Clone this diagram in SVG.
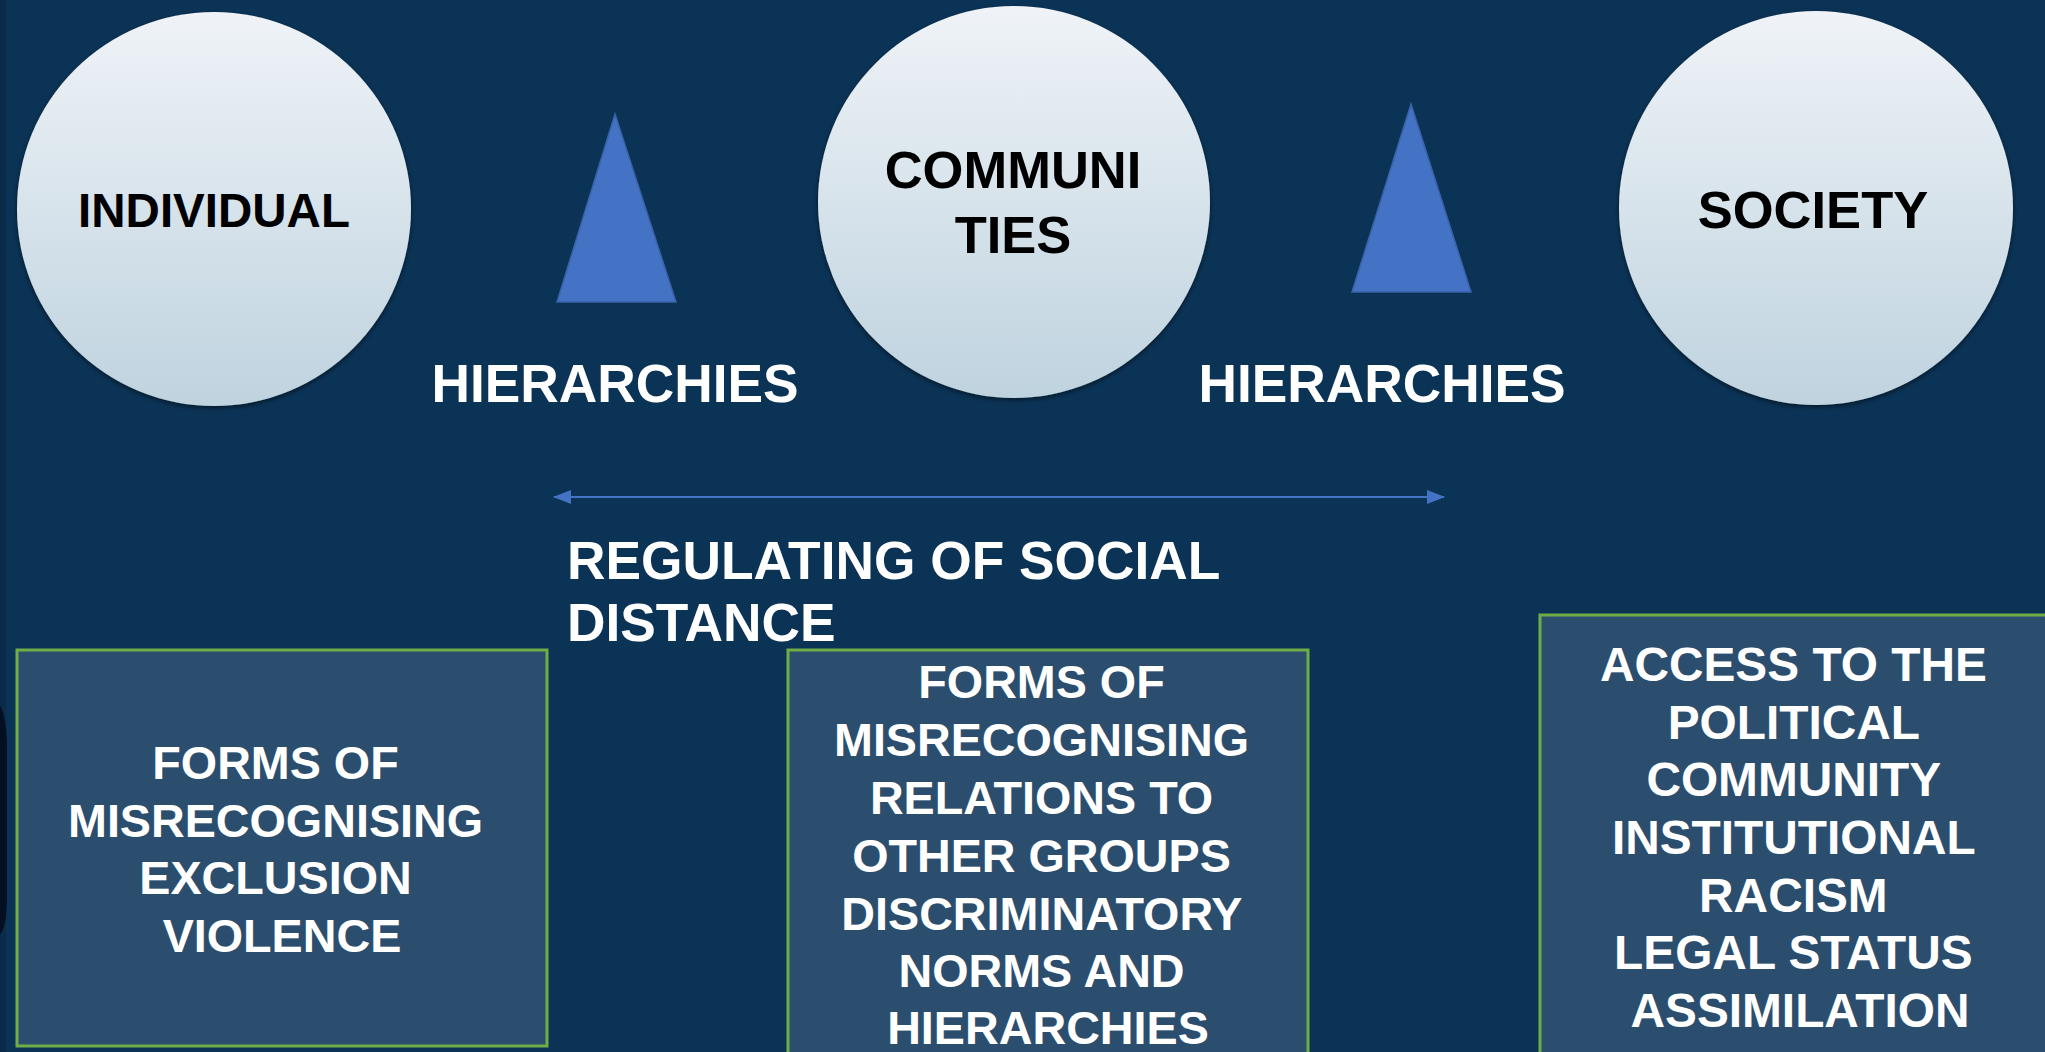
<svg xmlns="http://www.w3.org/2000/svg" width="2045" height="1052" viewBox="0 0 2045 1052">
  <defs>
    <linearGradient id="sphere" x1="0" y1="0" x2="0" y2="1">
      <stop offset="0" stop-color="#eff3f7"/>
      <stop offset="1" stop-color="#bfd3df"/>
    </linearGradient>
    <filter id="soft" x="-10%" y="-10%" width="120%" height="120%">
      <feDropShadow dx="0" dy="2" stdDeviation="2.5" flood-color="#000000" flood-opacity="0.55"/>
    </filter>
    <marker id="head" viewBox="0 0 18 14" refX="17" refY="7" markerWidth="18" markerHeight="14" markerUnits="userSpaceOnUse" orient="auto-start-reverse">
      <path d="M0,0 L18,7 L0,14 Z" fill="#4472c4"/>
    </marker>
    <style>
      .circle { fill: url(#sphere); filter: url(#soft); }
      .dark { font-family: "Liberation Sans", Arial, sans-serif; font-weight: bold; fill: #000000; text-anchor: middle; }
      .light { font-family: "Liberation Sans", Arial, sans-serif; font-weight: bold; fill: #ffffff; }
      .mid { text-anchor: middle; }
      .tri { fill: #4472c4; stroke: #3a62a9; stroke-width: 1.5; }
      .box { fill: #2c4e6e; stroke: #70ad47; stroke-width: 3; }
      .link { stroke: #4472c4; stroke-width: 2; fill: none; }
    </style>
  </defs>

  <!-- backdrop -->
  <rect x="0" y="0" width="2045" height="1052" fill="#0b3356"/>
  <rect x="0" y="0" width="6" height="1052" fill="#0a2b4a"/>
  <path d="M0,705 C5,715 7,730 7,750 L7,895 C7,915 5,928 0,935 Z" fill="#040f22"/>

  <!-- level circles -->
  <g id="individual">
    <circle class="circle" cx="214" cy="209" r="197"/>
    <text class="dark" x="214" y="227" font-size="47.5">INDIVIDUAL</text>
  </g>
  <g id="communities">
    <circle class="circle" cx="1014" cy="202" r="196"/>
    <text class="dark" x="1013" y="188" font-size="52.5">COMMUNI</text>
    <text class="dark" x="1013" y="253" font-size="52.5">TIES</text>
  </g>
  <g id="society">
    <circle class="circle" cx="1816" cy="208" r="197"/>
    <text class="dark" x="1813" y="228" font-size="52.5">SOCIETY</text>
  </g>

  <!-- hierarchy markers -->
  <g id="hierarchy-left">
    <polygon class="tri" points="615,114 557,302 676,302"/>
    <text class="light mid" x="615" y="402" font-size="53.3">HIERARCHIES</text>
  </g>
  <g id="hierarchy-right">
    <polygon class="tri" points="1411,104 1352,292 1471,292"/>
    <text class="light mid" x="1382" y="402" font-size="53.3">HIERARCHIES</text>
  </g>

  <!-- social distance axis -->
  <g id="connectors">
    <line class="link" x1="554" y1="497" x2="1444" y2="497" marker-start="url(#head)" marker-end="url(#head)"/>
  </g>
  <g id="social-distance">
    <text class="light" x="567" y="579" font-size="53.3">REGULATING OF SOCIAL</text>
    <text class="light" x="567" y="641" font-size="53.3">DISTANCE</text>
  </g>

  <!-- forms of misrecognition per level -->
  <g id="box-individual">
    <rect class="box" x="17" y="650" width="530" height="396"/>
    <text class="light mid" font-size="46.7">
      <tspan x="282" y="779">FORMS OF</tspan>
      <tspan x="282" y="836.5">MISRECOGNISING</tspan>
      <tspan x="282" y="894">EXCLUSION</tspan>
      <tspan x="282" y="952">VIOLENCE</tspan>
    </text>
  </g>
  <g id="box-communities">
    <rect class="box" x="788" y="650" width="520" height="430"/>
    <text class="light mid" font-size="46.7">
      <tspan x="1048" y="698">FORMS OF</tspan>
      <tspan x="1048" y="756">MISRECOGNISING</tspan>
      <tspan x="1048" y="813.5">RELATIONS TO</tspan>
      <tspan x="1048" y="872">OTHER GROUPS</tspan>
      <tspan x="1048" y="929.5">DISCRIMINATORY</tspan>
      <tspan x="1048" y="987">NORMS AND</tspan>
      <tspan x="1048" y="1044">HIERARCHIES</tspan>
    </text>
  </g>
  <g id="box-society">
    <rect class="box" x="1540" y="615" width="540" height="470"/>
    <text class="light mid" font-size="47.8">
      <tspan x="1800" y="681">ACCESS TO THE</tspan>
      <tspan x="1800" y="738.5">POLITICAL</tspan>
      <tspan x="1800" y="796">COMMUNITY</tspan>
      <tspan x="1800" y="854">INSTITUTIONAL</tspan>
      <tspan x="1800" y="911.5">RACISM</tspan>
      <tspan x="1800" y="969">LEGAL STATUS</tspan>
      <tspan x="1800" y="1027">ASSIMILATION</tspan>
    </text>
  </g>
</svg>
